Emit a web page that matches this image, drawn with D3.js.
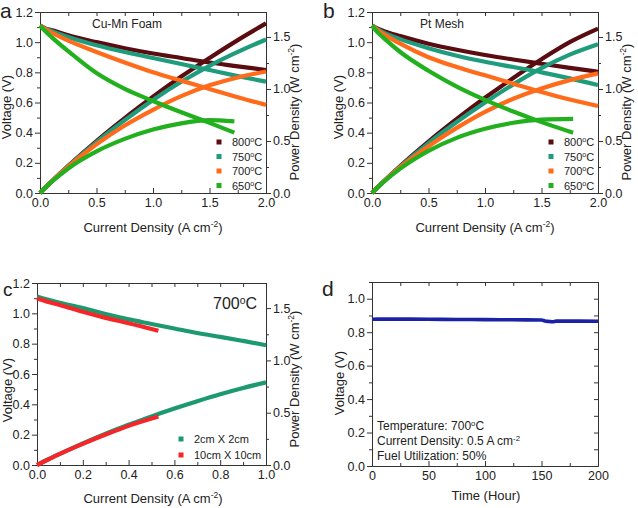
<!DOCTYPE html>
<html>
<head>
<meta charset="utf-8">
<script src="https://cdn.jsdelivr.net/npm/d3@7"></script>
<style>
  body { margin: 0; background: #fff; }
  text { font-family: "Liberation Sans", Arial, sans-serif; }
  .tick text { font-size: 12.5px; fill: #222; }
  .domain, .tick line { stroke: #333; }
</style>
</head>
<body>
<svg id="fig" width="638" height="508"></svg>
<script>
// ---- data ----
// panel a: Cu-Mn foam
var aCurrent = [0, 0.05, 0.1, 0.25, 0.5, 0.75, 1.0, 1.25, 1.5, 1.75, 2.0];
var aCurrent650 = [0, 0.05, 0.1, 0.25, 0.5, 0.75, 1.0, 1.25, 1.5, 1.72];
var aV800 = [1.11, 1.09, 1.08, 1.045, 1.0, 0.96, 0.925, 0.895, 0.865, 0.84, 0.815];
var aV750 = [1.11, 1.09, 1.075, 1.035, 0.98, 0.935, 0.895, 0.855, 0.815, 0.775, 0.738];
var aV700 = [1.11, 1.085, 1.065, 1.01, 0.935, 0.865, 0.80, 0.745, 0.69, 0.635, 0.584];
var aV650 = [1.11, 1.07, 1.035, 0.94, 0.795, 0.69, 0.61, 0.535, 0.465, 0.40];
var aP800 = [0, 0.055, 0.108, 0.261, 0.50, 0.72, 0.925, 1.119, 1.298, 1.47, 1.63];
var aP750 = [0, 0.055, 0.108, 0.259, 0.49, 0.70, 0.895, 1.069, 1.223, 1.356, 1.476];
var aP700 = [0, 0.054, 0.107, 0.253, 0.468, 0.649, 0.80, 0.931, 1.035, 1.111, 1.168];
var aP650 = [0, 0.054, 0.104, 0.236, 0.40, 0.52, 0.61, 0.67, 0.70, 0.688];

// panel b: Pt mesh
var bCurrent = [0, 0.05, 0.1, 0.25, 0.5, 0.75, 1.0, 1.25, 1.5, 1.75, 2.0];
var bCurrent650 = [0, 0.05, 0.1, 0.25, 0.5, 0.75, 1.0, 1.25, 1.5, 1.78];
var bV800 = [1.11, 1.09, 1.075, 1.04, 0.99, 0.95, 0.915, 0.885, 0.857, 0.83, 0.804];
var bV750 = [1.11, 1.085, 1.065, 1.02, 0.96, 0.91, 0.87, 0.835, 0.80, 0.76, 0.716];
var bV700 = [1.11, 1.08, 1.055, 0.99, 0.90, 0.835, 0.78, 0.725, 0.67, 0.62, 0.577];
var bV650 = [1.11, 1.065, 1.03, 0.935, 0.81, 0.705, 0.617, 0.54, 0.47, 0.40];
var bP800 = [0, 0.055, 0.108, 0.26, 0.495, 0.712, 0.915, 1.106, 1.286, 1.45, 1.58];
var bP750 = [0, 0.054, 0.107, 0.255, 0.48, 0.682, 0.87, 1.044, 1.20, 1.33, 1.43];
var bP700 = [0, 0.054, 0.106, 0.248, 0.45, 0.626, 0.78, 0.906, 1.005, 1.085, 1.15];
var bP650 = [0, 0.053, 0.103, 0.234, 0.405, 0.53, 0.617, 0.675, 0.705, 0.712];

// panel c: 700 C, two cell sizes
var cCurrent2 = [0, 0.05, 0.1, 0.2, 0.3, 0.4, 0.5, 0.6, 0.7, 0.8, 0.9, 1.0];
var cV2 = [1.11, 1.09, 1.07, 1.035, 0.995, 0.96, 0.93, 0.90, 0.87, 0.845, 0.818, 0.79];
var cP2 = [0, 0.055, 0.107, 0.207, 0.30, 0.384, 0.465, 0.54, 0.61, 0.676, 0.736, 0.79];
var cCurrent10 = [0, 0.05, 0.1, 0.2, 0.3, 0.4, 0.53];
var cV10 = [1.10, 1.075, 1.055, 1.01, 0.97, 0.935, 0.885];
var cP10 = [0, 0.054, 0.106, 0.202, 0.291, 0.374, 0.463];

// panel d: stability test
var dTime = [0, 5, 25, 50, 75, 100, 125, 150, 153, 157, 160, 163, 175, 200];
var dVolt = [0.877, 0.878, 0.878, 0.877, 0.876, 0.875, 0.874, 0.873, 0.867, 0.864, 0.862, 0.866, 0.866, 0.865];

var tempLabels = ["800", "750", "700", "650"];
var tempColors = ["#5a0c10", "#1f9c7c", "#ff6b1a", "#22b01e"];
var sizeLabels = ["2cm X 2cm", "10cm X 10cm"];
var sizeColors = ["#1c9a6e", "#f5252a"];

var svg = d3.select('#fig');

// text with optional superscript pieces: parts = [[str, sup?], ...]
function richText(g, parts, x, y, size, anchor, rotate) {
    var t = g.append('text')
        .attr('x', x).attr('y', y)
        .attr('font-size', size)
        .attr('text-anchor', anchor || 'start')
        .attr('fill', '#222');
    if (rotate) t.attr('transform', 'rotate(' + rotate + ',' + x + ',' + y + ')');
    parts.forEach(function(p) {
        var s = t.append('tspan').text(p[0]);
        if (p[1]) s.attr('baseline-shift', 'super').attr('font-size', size * 0.65);
    });
    return t;
}

function degC(temp) { return [[temp], ['o', true], ['C']]; }

function ticksFrom(lo, hi, step) {
    var out = [];
    for (var v = lo; v <= hi + 1e-9; v += step) out.push(+v.toFixed(4));
    return out;
}

/**
 * Draws one framed panel, returns scales
 */
function drawFrame(cfg) {
    var g = svg.append('g');
    var x = d3.scaleLinear().domain(cfg.xDomain).range([cfg.left, cfg.right]);
    var y = d3.scaleLinear().domain(cfg.yDomain).range([cfg.bottom, cfg.top]);

    // bottom (inward ticks, labelled)
    g.append('g').attr('transform', 'translate(0,' + cfg.bottom + ')')
        .call(d3.axisBottom(x).tickValues(cfg.xMajor).tickSize(-5).tickSizeOuter(0).tickPadding(5).tickFormat(cfg.xFormat));
    g.append('g').attr('transform', 'translate(0,' + cfg.bottom + ')')
        .call(d3.axisBottom(x).tickValues(cfg.xMinor).tickSize(-3).tickSizeOuter(0).tickFormat(''));
    // top (inward ticks)
    g.append('g').attr('transform', 'translate(0,' + cfg.top + ')')
        .call(d3.axisTop(x).tickValues(cfg.xMajor.concat(cfg.xMinor)).tickSize(-4).tickSizeOuter(0).tickFormat(''));
    // left (outward)
    g.append('g').attr('transform', 'translate(' + cfg.left + ',0)')
        .call(d3.axisLeft(y).tickValues(cfg.yMajor).tickSize(5).tickSizeOuter(0).tickPadding(2).tickFormat(d3.format('.1f')));
    g.append('g').attr('transform', 'translate(' + cfg.left + ',0)')
        .call(d3.axisLeft(y).tickValues(cfg.yMinor).tickSize(3).tickSizeOuter(0).tickFormat(''));

    var y2 = null;
    if (cfg.y2Domain) {
        y2 = d3.scaleLinear().domain(cfg.y2Domain).range([cfg.bottom, cfg.top]);
        g.append('g').attr('transform', 'translate(' + cfg.right + ',0)')
            .call(d3.axisRight(y2).tickValues([0, 0.5, 1.0, 1.5]).tickSize(5).tickSizeOuter(0).tickPadding(2).tickFormat(d3.format('.1f')));
        g.append('g').attr('transform', 'translate(' + cfg.right + ',0)')
            .call(d3.axisRight(y2).tickValues([0.25, 0.75, 1.25]).tickSize(3).tickSizeOuter(0).tickFormat(''));
    } else {
        g.append('g').attr('transform', 'translate(' + cfg.right + ',0)')
            .call(d3.axisRight(y).tickValues(cfg.yMajor.concat(cfg.yMinor)).tickSize(-4).tickSizeOuter(0).tickFormat(''));
    }
    return { g: g, x: x, y: y, y2: y2 };
}

function drawCurve(p, scaleY, xs, ys, color, width) {
    var pts = xs.map(function(v, i) { return [v, ys[i]]; });
    var line = d3.line()
        .x(function(d) { return p.x(d[0]); })
        .y(function(d) { return scaleY(d[1]); })
        .curve(d3.curveMonotoneX);
    p.g.append('path').datum(pts).attr('d', line)
        .attr('fill', 'none').attr('stroke', color)
        .attr('stroke-width', width || 4.2);
}

function legend(g, labels, colors, x, y, dy, size) {
    labels.forEach(function(lab, i) {
        g.append('rect').attr('x', x - 2.5).attr('y', y + i * dy - 2.5 - 4)
            .attr('width', 5).attr('height', 5).attr('fill', colors[i]);
        var parts = Array.isArray(lab) ? lab : [[lab]];
        richText(g, parts, x + 13, y + i * dy, size);
    });
}

// ---------- panels a & b ----------
function ivPanel(off, current, current650, vs, ps, title, titleX) {
    var p = drawFrame({
        left: off, right: off + 226, top: 12, bottom: 193,
        xDomain: [0, 2], yDomain: [0, 1.2], y2Domain: [0, 1.74],
        xMajor: ticksFrom(0, 2, 0.5), xMinor: [0.25, 0.75, 1.25, 1.75],
        yMajor: ticksFrom(0, 1.2, 0.2), yMinor: ticksFrom(0.1, 1.1, 0.2),
        xFormat: d3.format('.1f')
    });
    for (var i = 0; i < 4; i++) {
        var xs = i === 3 ? current650 : current;
        drawCurve(p, p.y, xs, vs[i], tempColors[i]);
        drawCurve(p, p.y2, xs, ps[i], tempColors[i]);
    }
    legend(p.g, tempLabels.map(degC), tempColors, off + 179, 146, 14.5, 11);
    richText(p.g, [[title]], titleX, 28, 12);
    richText(p.g, [['Current Density (A cm'], ['-2', true], [')']], off + 113, 232, 13, 'middle');
    richText(p.g, [['Voltage (V)']], off - 29, 107, 13, 'middle', -90);
    richText(p.g, [['Power Density (W cm'], ['-2', true], [')']], off + 259, 112, 13, 'middle', -90);
    return p;
}

ivPanel(40, aCurrent, aCurrent650, [aV800, aV750, aV700, aV650], [aP800, aP750, aP700, aP650], 'Cu-Mn Foam', 92);
ivPanel(372, bCurrent, bCurrent650, [bV800, bV750, bV700, bV650], [bP800, bP750, bP700, bP650], 'Pt Mesh', 420);

// ---------- panel c ----------
var pc = drawFrame({
    left: 37, right: 266, top: 283, bottom: 465,
    xDomain: [0, 1], yDomain: [0, 1.2], y2Domain: [0, 1.74],
    xMajor: ticksFrom(0, 1, 0.2), xMinor: ticksFrom(0.1, 0.9, 0.2),
    yMajor: ticksFrom(0, 1.2, 0.2), yMinor: ticksFrom(0.1, 1.1, 0.2),
    xFormat: d3.format('.1f')
});
drawCurve(pc, pc.y, cCurrent2, cV2, sizeColors[0]);
drawCurve(pc, pc.y2, cCurrent2, cP2, sizeColors[0]);
drawCurve(pc, pc.y, cCurrent10, cV10, sizeColors[1]);
drawCurve(pc, pc.y2, cCurrent10, cP10, sizeColors[1]);
legend(pc.g, sizeLabels, sizeColors, 181, 443, 16, 11);
richText(pc.g, degC('700'), 213, 309, 16);
richText(pc.g, [['Current Density (A cm'], ['-2', true], [')']], 153, 503, 13, 'middle');
richText(pc.g, [['Voltage (V)']], 12, 390, 13, 'middle', -90);
richText(pc.g, [['Power Density (W cm'], ['-2', true], [')']], 299, 379, 13, 'middle', -90);

// ---------- panel d ----------
var pd = drawFrame({
    left: 372, right: 598, top: 282, bottom: 466,
    xDomain: [0, 200], yDomain: [0, 1.1],
    xMajor: ticksFrom(0, 200, 50), xMinor: ticksFrom(25, 175, 50),
    yMajor: ticksFrom(0, 1.0, 0.2), yMinor: ticksFrom(0.1, 1.1, 0.2),
    xFormat: d3.format('d')
});
drawCurve(pd, pd.y, dTime, dVolt, '#1a22a6', 3.6);
richText(pd.g, [['Temperature: 700'], ['o', true], ['C']], 377, 430, 12);
richText(pd.g, [['Current Density: 0.5 A cm'], ['-2', true]], 377, 445, 12);
richText(pd.g, [['Fuel Utilization: 50%']], 377, 460, 12);
richText(pd.g, [['Time (Hour)']], 486, 500, 13, 'middle');
richText(pd.g, [['Voltage (V)']], 344, 383, 13, 'middle', -90);

// panel letters
richText(svg, [['a']], 0, 18, 21);
richText(svg, [['b']], 323, 18, 21);
richText(svg, [['c']], 3, 296, 19);
richText(svg, [['d']], 322, 296, 21);
</script>
</body>
</html>
